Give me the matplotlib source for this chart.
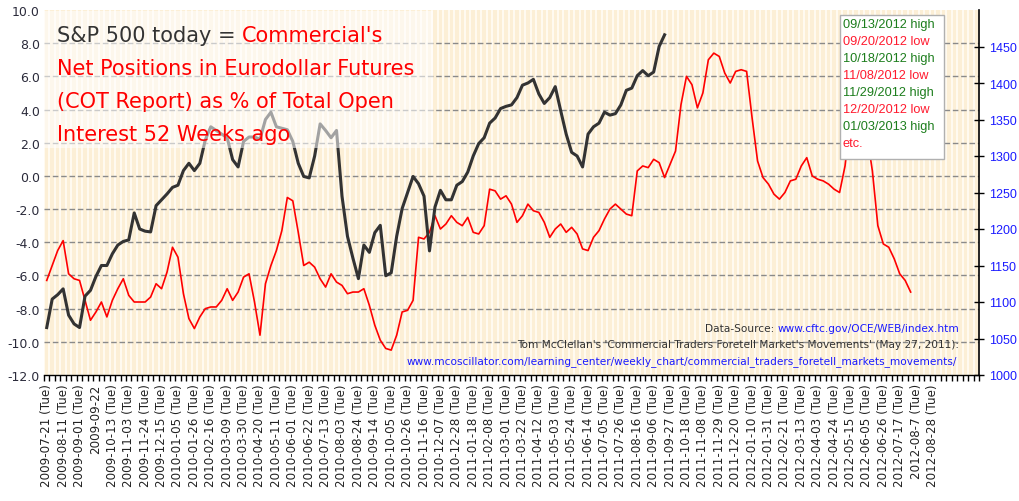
import matplotlib
matplotlib.use("Agg")
import matplotlib.pyplot as plt
import numpy as np
from matplotlib.patches import Rectangle

# ---------------- data ----------------
tick_dates = ["2009-07-21", "2009-08-11", "2009-09-01", "2009-09-22", "2009-10-13", "2009-11-03",
              "2009-11-24", "2009-12-15", "2010-01-05", "2010-01-26", "2010-02-16", "2010-03-09",
              "2010-03-30", "2010-04-20", "2010-05-11", "2010-06-01", "2010-06-22", "2010-07-13",
              "2010-08-03", "2010-08-24", "2010-09-14", "2010-10-05", "2010-10-26", "2010-11-16",
              "2010-12-07", "2010-12-28", "2011-01-18", "2011-02-08", "2011-03-01", "2011-03-22",
              "2011-04-12", "2011-05-03", "2011-05-24", "2011-06-14", "2011-07-05", "2011-07-26",
              "2011-08-16", "2011-09-06", "2011-09-27", "2011-10-18", "2011-11-08", "2011-11-29",
              "2011-12-20", "2012-01-10", "2012-01-31", "2012-02-21", "2012-03-13", "2012-04-03",
              "2012-04-24", "2012-05-15", "2012-06-05", "2012-06-26", "2012-07-17", "2012-08-7",
              "2012-08-28"]
tick_suffix = [" (Tue)"] * len(tick_dates)
tick_suffix[3] = ""
n_weeks = 171          # weekly categories on the x axis
label_step = 3         # one label every 3 weeks

# S&P 500 (right axis), weekly, from 2009-07-21
sp500 = [1065, 1104, 1110, 1118, 1082, 1070, 1065, 1108, 1116, 1135, 1150, 1150, 1166, 1178, 1183, 1185, 1222, 1200, 1197, 1196,
         1232, 1240, 1248, 1257, 1260, 1280, 1290, 1280, 1290, 1322, 1340, 1335, 1330, 1325, 1295, 1285, 1320, 1326, 1326, 1323,
         1350, 1360, 1340, 1338, 1336, 1320, 1290, 1272, 1270, 1300, 1344, 1335, 1325, 1335, 1245, 1190, 1160, 1132, 1178, 1168,
         1195, 1205, 1136, 1140, 1190, 1228, 1250, 1272, 1262, 1245, 1170, 1230, 1253, 1240, 1240, 1260, 1265, 1278, 1300, 1317,
         1325, 1345, 1352, 1365, 1368, 1370, 1380, 1397, 1400, 1405, 1385, 1372, 1380, 1395, 1362, 1330, 1305, 1300, 1285, 1330,
         1340, 1345, 1360, 1356, 1358, 1370, 1390, 1393, 1410, 1417, 1410, 1415, 1450, 1466]

# Commercials' net positions in Eurodollar futures, % of open interest (left axis)
net_pos = [-6.3, -5.4, -4.5, -3.9, -5.9, -6.2, -6.3, -7.5, -8.7, -8.2,
           -7.6, -8.5, -7.5, -6.8, -6.2, -7.2, -7.6, -7.6, -7.6, -7.3,
           -6.5, -6.8, -5.8, -4.3, -4.9, -7.1, -8.6, -9.2, -8.5, -8.0,
           -7.9, -7.9, -7.5, -6.8, -7.5, -7.0, -6.1, -5.9, -7.6, -9.6,
           -6.5, -5.4, -4.5, -3.3, -1.3, -1.5, -3.4, -5.4, -5.2, -5.5,
           -6.2, -6.7, -5.9, -6.4, -6.6, -7.1, -7.0, -7.0, -6.8, -7.8,
           -9.0, -9.9, -10.4, -10.5, -9.6, -8.2, -8.1, -7.5, -3.7, -3.8,
           -3.4, -2.4, -3.2, -2.9, -2.4, -2.8, -3.0, -2.5, -3.4, -3.5,
           -3.0, -0.8, -0.9, -1.4, -1.2, -1.7, -2.8, -2.4, -1.7, -2.1,
           -2.2, -2.8, -3.7, -3.2, -2.9, -3.4, -3.1, -3.5, -4.4, -4.5,
           -3.7, -3.3, -2.6, -2.0, -1.7, -2.0, -2.3, -2.4, 0.3, 0.6,
           0.5, 1.0, 0.8, -0.1, 0.7, 1.5, 4.3, 6.0, 5.5, 4.1,
           5.0, 7.0, 7.4, 7.2, 6.2, 5.6, 6.3, 6.4, 6.3, 3.5,
           0.9, -0.1, -0.5, -1.1, -1.4, -1.0, -0.3, -0.2, 0.6, 1.1,
           0.0, -0.2, -0.3, -0.5, -0.8, -1.0, 0.6, 3.5, 4.5, 4.0,
           2.5, 0.3, -3.0, -4.1, -4.3, -5.0, -5.9, -6.3, -7.0]

left_ticks = np.arange(-12, 10.01, 2)
right_ticks = np.arange(1000, 1451, 50)

forecast_lines = [("09/13/2012 high", "green"), ("09/20/2012 low", "red"),
                  ("10/18/2012 high", "green"), ("11/08/2012 low", "red"),
                  ("11/29/2012 high", "green"), ("12/20/2012 low", "red"),
                  ("01/03/2013 high", "green"), ("etc.", "red")]

# ---------------- figure ----------------
W, H = 1020, 502
fig = plt.figure(figsize=(W / 100, H / 100), dpi=100)
fig.patch.set_facecolor("white")

def fx(px):
    return px / W

def fy(py):
    return 1 - py / H

ax_l, ax_r, ax_t, ax_b = 44, 979, 11, 376
ax = fig.add_axes([fx(ax_l), fy(ax_b), fx(ax_r - ax_l), (ax_b - ax_t) / H])
ax.set_facecolor("#fcefd6")
ax.set_xlim(-0.5, n_weeks - 0.5)
ax.set_ylim(-12, 10)

# parchment stripes
ax.vlines(np.arange(-0.5, n_weeks, 1.0), -12, 10, colors="#fffaf0", lw=1.45, zorder=0.5)

# grid
for v in left_ticks[1:-1]:
    ax.axhline(v, color="#8a8a8a", lw=1.0, ls=(0, (4, 2)), zorder=1)

# red series
ax.plot(np.arange(len(net_pos)), net_pos, color="#ff0000", lw=1.2, zorder=3)

ax.set_yticks(left_ticks)
ax.set_yticklabels([f"{v:.1f}" for v in left_ticks])
ax.tick_params(axis="y", length=0, pad=3, labelsize=9, labelcolor="#2b2b3b")
for s in ["left", "top", "right"]:
    ax.spines[s].set_visible(False)
ax.spines["bottom"].set_color("black")
ax.spines["bottom"].set_linewidth(1.0)

label_pos = np.arange(0, len(tick_dates) * label_step, label_step)
ax.set_xticks(label_pos)
ax.set_xticklabels([d + s for d, s in zip(tick_dates, tick_suffix)], rotation=90,
                   fontsize=8.6, color="#222222", va="top", ha="center")
ax.set_xticks(np.arange(-0.5, n_weeks, 1.0), minor=True)
ax.tick_params(axis="x", which="major", length=0, pad=6)
ax.tick_params(axis="x", which="minor", length=4, width=1, color="black", direction="out")

# right axis / S&P
ax2 = ax.twinx()
ax2.set_ylim(1000, 1500)
ax2.plot(np.arange(len(sp500)), sp500, color="#333333", lw=2.2, zorder=4)
ax2.set_yticks(right_ticks)
ax2.tick_params(axis="y", direction="inout", length=7, width=1, color="black",
                labelsize=9, labelcolor="#1a1aff", pad=4)
for s in ["left", "top", "bottom"]:
    ax2.spines[s].set_visible(False)
ax2.spines["right"].set_color("black")
ax2.spines["right"].set_linewidth(1.2)
for t in ax2.get_yticklabels():
    t.set_family("Liberation Sans")

# title box (semi-transparent)
fig.patches.append(Rectangle((fx(44), fy(149)), fx(433 - 44), (149 - 12) / H,
                             transform=fig.transFigure, facecolor="white", alpha=0.55,
                             edgecolor="none", zorder=5))

fig.canvas.draw()
renderer = fig.canvas.get_renderer()

tfs = 15.0
t1 = fig.text(fx(57), fy(36), "S&P 500 today = ", color="#333333", fontsize=tfs,
              va="center", ha="left", zorder=6)
fig.canvas.draw()
bb = t1.get_window_extent(renderer)
fig.text(bb.x1 / W, fy(36), "Commercial's", color="#ff0000", fontsize=tfs,
         va="center", ha="left", zorder=6)
for i, line in enumerate(["Net Positions in Eurodollar Futures",
                          "(COT Report) as % of Total Open",
                          "Interest 52 Weeks ago"]):
    fig.text(fx(57), fy(69 + 33 * i), line, color="#ff0000", fontsize=tfs,
             va="center", ha="left", zorder=6)

# forecast box
bx0, bx1, by0, by1 = 840, 944, 16, 160
fig.patches.append(Rectangle((fx(bx0), fy(by1)), fx(bx1 - bx0), (by1 - by0) / H,
                             transform=fig.transFigure, facecolor="white",
                             edgecolor="#b0b0b0", lw=1.0, zorder=5))
colmap = {"green": "#1c7d1c", "red": "#ff1a2e"}
for i, (txt, c) in enumerate(forecast_lines):
    fig.text(fx(843), fy(25 + 17 * i), txt, color=colmap[c], fontsize=9.2,
             family="Liberation Sans", va="center", ha="left", zorder=6)

# source annotations
afs = 7.6
u = fig.text(fx(959), fy(329), "www.cftc.gov/OCE/WEB/index.htm", color="#1a1aff",
             fontsize=afs, ha="right", va="center", zorder=6)
fig.canvas.draw()
ub = u.get_window_extent(renderer)
fig.text(ub.x0 / W, fy(329), "Data-Source: ", color="#333333", fontsize=afs,
         ha="right", va="center", zorder=6)
fig.text(fx(959), fy(345),
         "Tom McClellan's 'Commercial Traders Foretell Market's Movements' (May 27, 2011):",
         color="#333333", fontsize=afs, ha="right", va="center", zorder=6)
fig.text(fx(957), fy(362),
         "www.mcoscillator.com/learning_center/weekly_chart/commercial_traders_foretell_markets_movements/",
         color="#1a1aff", fontsize=afs, ha="right", va="center", zorder=6)

fig.savefig("out.png", dpi=100)
